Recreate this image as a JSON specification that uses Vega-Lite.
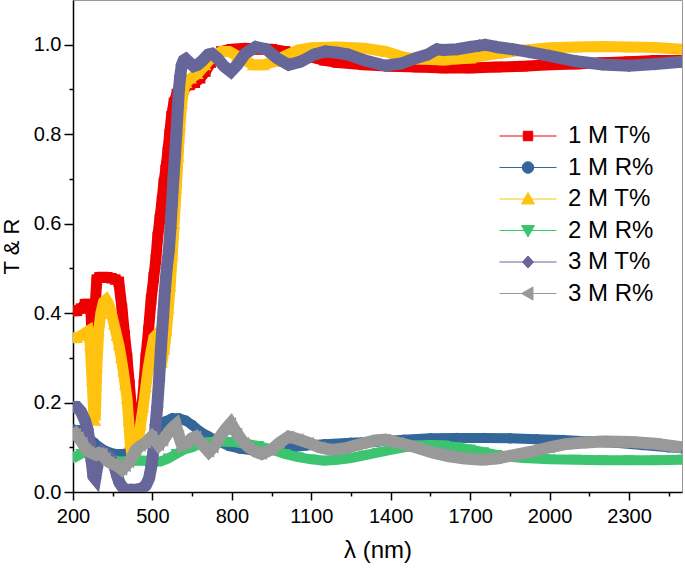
{
"$schema":"https://vega.github.io/schema/vega-lite/v6.json",
"width":609,"height":492,
"autosize":{"type":"none"},
"padding":{"left":73,"top":0,"right":3,"bottom":82},
"background":"white",
"config":{"view":{"stroke":"#999999","strokeWidth":1},"font":"Liberation Sans"},
"datasets":{"d":[
{"s":"1 M T%","x":200,"y":0.405},{"s":"1 M T%","x":215,"y":0.405},{"s":"1 M T%","x":230,"y":0.41},{"s":"1 M T%","x":245,"y":0.42},{"s":"1 M T%","x":260,"y":0.42},{"s":"1 M T%","x":268,"y":0.41},{"s":"1 M T%","x":275,"y":0.27},{"s":"1 M T%","x":282,"y":0.40},{"s":"1 M T%","x":290,"y":0.475},{"s":"1 M T%","x":300,"y":0.48},{"s":"1 M T%","x":315,"y":0.48},{"s":"1 M T%","x":330,"y":0.48},{"s":"1 M T%","x":345,"y":0.478},{"s":"1 M T%","x":360,"y":0.475},{"s":"1 M T%","x":373,"y":0.47},{"s":"1 M T%","x":385,"y":0.41},{"s":"1 M T%","x":395,"y":0.35},{"s":"1 M T%","x":404,"y":0.30},{"s":"1 M T%","x":413,"y":0.24},{"s":"1 M T%","x":422,"y":0.18},{"s":"1 M T%","x":430,"y":0.14},{"s":"1 M T%","x":437,"y":0.12},{"s":"1 M T%","x":445,"y":0.14},{"s":"1 M T%","x":452,"y":0.16},{"s":"1 M T%","x":460,"y":0.19},{"s":"1 M T%","x":468,"y":0.24},{"s":"1 M T%","x":475,"y":0.30},{"s":"1 M T%","x":485,"y":0.36},{"s":"1 M T%","x":495,"y":0.43},{"s":"1 M T%","x":505,"y":0.48},{"s":"1 M T%","x":513,"y":0.52},{"s":"1 M T%","x":520,"y":0.57},{"s":"1 M T%","x":528,"y":0.61},{"s":"1 M T%","x":536,"y":0.65},{"s":"1 M T%","x":543,"y":0.69},{"s":"1 M T%","x":550,"y":0.72},{"s":"1 M T%","x":558,"y":0.76},{"s":"1 M T%","x":565,"y":0.80},{"s":"1 M T%","x":572,"y":0.84},{"s":"1 M T%","x":581,"y":0.87},{"s":"1 M T%","x":592,"y":0.89},{"s":"1 M T%","x":605,"y":0.90},{"s":"1 M T%","x":620,"y":0.905},{"s":"1 M T%","x":640,"y":0.91},{"s":"1 M T%","x":660,"y":0.915},{"s":"1 M T%","x":680,"y":0.925},{"s":"1 M T%","x":700,"y":0.94},{"s":"1 M T%","x":720,"y":0.96},{"s":"1 M T%","x":740,"y":0.975},{"s":"1 M T%","x":760,"y":0.985},{"s":"1 M T%","x":800,"y":0.99},{"s":"1 M T%","x":850,"y":0.992},{"s":"1 M T%","x":900,"y":0.99},{"s":"1 M T%","x":950,"y":0.99},{"s":"1 M T%","x":1000,"y":0.985},{"s":"1 M T%","x":1050,"y":0.98},{"s":"1 M T%","x":1100,"y":0.972},{"s":"1 M T%","x":1150,"y":0.965},{"s":"1 M T%","x":1200,"y":0.96},{"s":"1 M T%","x":1300,"y":0.955},{"s":"1 M T%","x":1400,"y":0.952},{"s":"1 M T%","x":1500,"y":0.95},{"s":"1 M T%","x":1600,"y":0.948},{"s":"1 M T%","x":1700,"y":0.948},{"s":"1 M T%","x":1800,"y":0.95},{"s":"1 M T%","x":1900,"y":0.952},{"s":"1 M T%","x":2000,"y":0.955},{"s":"1 M T%","x":2100,"y":0.957},{"s":"1 M T%","x":2200,"y":0.96},{"s":"1 M T%","x":2300,"y":0.962},{"s":"1 M T%","x":2400,"y":0.965},{"s":"1 M T%","x":2500,"y":0.965},
{"s":"1 M R%","x":200,"y":0.14},{"s":"1 M R%","x":220,"y":0.138},{"s":"1 M R%","x":240,"y":0.13},{"s":"1 M R%","x":260,"y":0.12},{"s":"1 M R%","x":280,"y":0.11},{"s":"1 M R%","x":300,"y":0.10},{"s":"1 M R%","x":330,"y":0.09},{"s":"1 M R%","x":360,"y":0.085},{"s":"1 M R%","x":390,"y":0.085},{"s":"1 M R%","x":420,"y":0.09},{"s":"1 M R%","x":450,"y":0.10},{"s":"1 M R%","x":480,"y":0.115},{"s":"1 M R%","x":505,"y":0.13},{"s":"1 M R%","x":525,"y":0.145},{"s":"1 M R%","x":550,"y":0.158},{"s":"1 M R%","x":575,"y":0.165},{"s":"1 M R%","x":600,"y":0.165},{"s":"1 M R%","x":625,"y":0.16},{"s":"1 M R%","x":650,"y":0.15},{"s":"1 M R%","x":680,"y":0.135},{"s":"1 M R%","x":710,"y":0.125},{"s":"1 M R%","x":750,"y":0.113},{"s":"1 M R%","x":790,"y":0.103},{"s":"1 M R%","x":830,"y":0.097},{"s":"1 M R%","x":880,"y":0.093},{"s":"1 M R%","x":930,"y":0.092},{"s":"1 M R%","x":980,"y":0.095},{"s":"1 M R%","x":1030,"y":0.1},{"s":"1 M R%","x":1080,"y":0.104},{"s":"1 M R%","x":1150,"y":0.107},{"s":"1 M R%","x":1250,"y":0.11},{"s":"1 M R%","x":1350,"y":0.113},{"s":"1 M R%","x":1450,"y":0.117},{"s":"1 M R%","x":1550,"y":0.12},{"s":"1 M R%","x":1650,"y":0.121},{"s":"1 M R%","x":1750,"y":0.121},{"s":"1 M R%","x":1850,"y":0.12},{"s":"1 M R%","x":1950,"y":0.118},{"s":"1 M R%","x":2050,"y":0.116},{"s":"1 M R%","x":2150,"y":0.113},{"s":"1 M R%","x":2250,"y":0.11},{"s":"1 M R%","x":2350,"y":0.105},{"s":"1 M R%","x":2450,"y":0.1},{"s":"1 M R%","x":2500,"y":0.098},
{"s":"2 M T%","x":200,"y":0.345},{"s":"2 M T%","x":215,"y":0.345},{"s":"2 M T%","x":230,"y":0.35},{"s":"2 M T%","x":245,"y":0.355},{"s":"2 M T%","x":258,"y":0.36},{"s":"2 M T%","x":265,"y":0.33},{"s":"2 M T%","x":272,"y":0.25},{"s":"2 M T%","x":278,"y":0.18},{"s":"2 M T%","x":284,"y":0.16},{"s":"2 M T%","x":290,"y":0.28},{"s":"2 M T%","x":297,"y":0.36},{"s":"2 M T%","x":305,"y":0.40},{"s":"2 M T%","x":315,"y":0.425},{"s":"2 M T%","x":325,"y":0.43},{"s":"2 M T%","x":335,"y":0.42},{"s":"2 M T%","x":345,"y":0.40},{"s":"2 M T%","x":355,"y":0.375},{"s":"2 M T%","x":365,"y":0.35},{"s":"2 M T%","x":373,"y":0.33},{"s":"2 M T%","x":382,"y":0.30},{"s":"2 M T%","x":390,"y":0.27},{"s":"2 M T%","x":397,"y":0.24},{"s":"2 M T%","x":404,"y":0.21},{"s":"2 M T%","x":410,"y":0.16},{"s":"2 M T%","x":416,"y":0.11},{"s":"2 M T%","x":422,"y":0.085},{"s":"2 M T%","x":430,"y":0.08},{"s":"2 M T%","x":438,"y":0.085},{"s":"2 M T%","x":446,"y":0.11},{"s":"2 M T%","x":455,"y":0.15},{"s":"2 M T%","x":465,"y":0.19},{"s":"2 M T%","x":475,"y":0.235},{"s":"2 M T%","x":485,"y":0.28},{"s":"2 M T%","x":495,"y":0.315},{"s":"2 M T%","x":505,"y":0.345},{"s":"2 M T%","x":513,"y":0.35},{"s":"2 M T%","x":520,"y":0.32},{"s":"2 M T%","x":528,"y":0.29},{"s":"2 M T%","x":536,"y":0.29},{"s":"2 M T%","x":545,"y":0.32},{"s":"2 M T%","x":553,"y":0.36},{"s":"2 M T%","x":560,"y":0.41},{"s":"2 M T%","x":567,"y":0.46},{"s":"2 M T%","x":575,"y":0.53},{"s":"2 M T%","x":582,"y":0.60},{"s":"2 M T%","x":590,"y":0.68},{"s":"2 M T%","x":597,"y":0.75},{"s":"2 M T%","x":604,"y":0.82},{"s":"2 M T%","x":611,"y":0.87},{"s":"2 M T%","x":618,"y":0.90},{"s":"2 M T%","x":628,"y":0.915},{"s":"2 M T%","x":645,"y":0.925},{"s":"2 M T%","x":670,"y":0.935},{"s":"2 M T%","x":700,"y":0.955},{"s":"2 M T%","x":730,"y":0.975},{"s":"2 M T%","x":760,"y":0.985},{"s":"2 M T%","x":790,"y":0.985},{"s":"2 M T%","x":820,"y":0.975},{"s":"2 M T%","x":850,"y":0.965},{"s":"2 M T%","x":880,"y":0.955},{"s":"2 M T%","x":920,"y":0.955},{"s":"2 M T%","x":960,"y":0.962},{"s":"2 M T%","x":1000,"y":0.975},{"s":"2 M T%","x":1050,"y":0.988},{"s":"2 M T%","x":1100,"y":0.993},{"s":"2 M T%","x":1200,"y":0.995},{"s":"2 M T%","x":1300,"y":0.992},{"s":"2 M T%","x":1380,"y":0.985},{"s":"2 M T%","x":1450,"y":0.972},{"s":"2 M T%","x":1500,"y":0.968},{"s":"2 M T%","x":1600,"y":0.966},{"s":"2 M T%","x":1700,"y":0.97},{"s":"2 M T%","x":1800,"y":0.98},{"s":"2 M T%","x":1900,"y":0.988},{"s":"2 M T%","x":2000,"y":0.993},{"s":"2 M T%","x":2100,"y":0.995},{"s":"2 M T%","x":2200,"y":0.996},{"s":"2 M T%","x":2300,"y":0.995},{"s":"2 M T%","x":2400,"y":0.994},{"s":"2 M T%","x":2500,"y":0.99},
{"s":"2 M R%","x":200,"y":0.075},{"s":"2 M R%","x":215,"y":0.08},{"s":"2 M R%","x":230,"y":0.085},{"s":"2 M R%","x":250,"y":0.09},{"s":"2 M R%","x":270,"y":0.085},{"s":"2 M R%","x":290,"y":0.08},{"s":"2 M R%","x":320,"y":0.075},{"s":"2 M R%","x":350,"y":0.07},{"s":"2 M R%","x":380,"y":0.068},{"s":"2 M R%","x":410,"y":0.068},{"s":"2 M R%","x":440,"y":0.07},{"s":"2 M R%","x":470,"y":0.07},{"s":"2 M R%","x":500,"y":0.068},{"s":"2 M R%","x":530,"y":0.068},{"s":"2 M R%","x":560,"y":0.075},{"s":"2 M R%","x":590,"y":0.085},{"s":"2 M R%","x":620,"y":0.095},{"s":"2 M R%","x":650,"y":0.10},{"s":"2 M R%","x":680,"y":0.108},{"s":"2 M R%","x":720,"y":0.112},{"s":"2 M R%","x":760,"y":0.113},{"s":"2 M R%","x":800,"y":0.112},{"s":"2 M R%","x":850,"y":0.108},{"s":"2 M R%","x":900,"y":0.103},{"s":"2 M R%","x":950,"y":0.095},{"s":"2 M R%","x":1000,"y":0.085},{"s":"2 M R%","x":1050,"y":0.078},{"s":"2 M R%","x":1100,"y":0.073},{"s":"2 M R%","x":1150,"y":0.07},{"s":"2 M R%","x":1200,"y":0.072},{"s":"2 M R%","x":1250,"y":0.076},{"s":"2 M R%","x":1300,"y":0.082},{"s":"2 M R%","x":1350,"y":0.088},{"s":"2 M R%","x":1400,"y":0.094},{"s":"2 M R%","x":1450,"y":0.1},{"s":"2 M R%","x":1500,"y":0.104},{"s":"2 M R%","x":1550,"y":0.105},{"s":"2 M R%","x":1600,"y":0.104},{"s":"2 M R%","x":1650,"y":0.1},{"s":"2 M R%","x":1700,"y":0.095},{"s":"2 M R%","x":1750,"y":0.089},{"s":"2 M R%","x":1800,"y":0.083},{"s":"2 M R%","x":1850,"y":0.079},{"s":"2 M R%","x":1900,"y":0.076},{"s":"2 M R%","x":2000,"y":0.073},{"s":"2 M R%","x":2100,"y":0.072},{"s":"2 M R%","x":2200,"y":0.071},{"s":"2 M R%","x":2300,"y":0.071},{"s":"2 M R%","x":2400,"y":0.071},{"s":"2 M R%","x":2500,"y":0.072},
{"s":"3 M T%","x":200,"y":0.19},{"s":"3 M T%","x":215,"y":0.19},{"s":"3 M T%","x":230,"y":0.18},{"s":"3 M T%","x":245,"y":0.16},{"s":"3 M T%","x":255,"y":0.14},{"s":"3 M T%","x":263,"y":0.11},{"s":"3 M T%","x":270,"y":0.07},{"s":"3 M T%","x":277,"y":0.035},{"s":"3 M T%","x":284,"y":0.03},{"s":"3 M T%","x":291,"y":0.055},{"s":"3 M T%","x":298,"y":0.08},{"s":"3 M T%","x":310,"y":0.09},{"s":"3 M T%","x":322,"y":0.085},{"s":"3 M T%","x":335,"y":0.08},{"s":"3 M T%","x":348,"y":0.07},{"s":"3 M T%","x":358,"y":0.055},{"s":"3 M T%","x":367,"y":0.035},{"s":"3 M T%","x":376,"y":0.02},{"s":"3 M T%","x":388,"y":0.01},{"s":"3 M T%","x":400,"y":0.005},{"s":"3 M T%","x":420,"y":0.005},{"s":"3 M T%","x":440,"y":0.005},{"s":"3 M T%","x":460,"y":0.008},{"s":"3 M T%","x":475,"y":0.015},{"s":"3 M T%","x":487,"y":0.03},{"s":"3 M T%","x":497,"y":0.06},{"s":"3 M T%","x":505,"y":0.10},{"s":"3 M T%","x":512,"y":0.15},{"s":"3 M T%","x":518,"y":0.19},{"s":"3 M T%","x":525,"y":0.25},{"s":"3 M T%","x":532,"y":0.32},{"s":"3 M T%","x":540,"y":0.39},{"s":"3 M T%","x":547,"y":0.45},{"s":"3 M T%","x":554,"y":0.50},{"s":"3 M T%","x":562,"y":0.54},{"s":"3 M T%","x":568,"y":0.59},{"s":"3 M T%","x":573,"y":0.64},{"s":"3 M T%","x":579,"y":0.70},{"s":"3 M T%","x":585,"y":0.75},{"s":"3 M T%","x":590,"y":0.80},{"s":"3 M T%","x":596,"y":0.86},{"s":"3 M T%","x":600,"y":0.90},{"s":"3 M T%","x":605,"y":0.93},{"s":"3 M T%","x":611,"y":0.955},{"s":"3 M T%","x":618,"y":0.965},{"s":"3 M T%","x":626,"y":0.968},{"s":"3 M T%","x":640,"y":0.96},{"s":"3 M T%","x":655,"y":0.952},{"s":"3 M T%","x":670,"y":0.955},{"s":"3 M T%","x":690,"y":0.965},{"s":"3 M T%","x":710,"y":0.978},{"s":"3 M T%","x":725,"y":0.98},{"s":"3 M T%","x":745,"y":0.97},{"s":"3 M T%","x":770,"y":0.952},{"s":"3 M T%","x":796,"y":0.94},{"s":"3 M T%","x":820,"y":0.955},{"s":"3 M T%","x":850,"y":0.98},{"s":"3 M T%","x":890,"y":0.995},{"s":"3 M T%","x":930,"y":0.99},{"s":"3 M T%","x":970,"y":0.97},{"s":"3 M T%","x":1015,"y":0.955},{"s":"3 M T%","x":1060,"y":0.962},{"s":"3 M T%","x":1110,"y":0.978},{"s":"3 M T%","x":1154,"y":0.985},{"s":"3 M T%","x":1200,"y":0.982},{"s":"3 M T%","x":1240,"y":0.978},{"s":"3 M T%","x":1300,"y":0.965},{"s":"3 M T%","x":1380,"y":0.953},{"s":"3 M T%","x":1440,"y":0.958},{"s":"3 M T%","x":1494,"y":0.97},{"s":"3 M T%","x":1540,"y":0.978},{"s":"3 M T%","x":1560,"y":0.985},{"s":"3 M T%","x":1575,"y":0.99},{"s":"3 M T%","x":1600,"y":0.988},{"s":"3 M T%","x":1650,"y":0.99},{"s":"3 M T%","x":1700,"y":0.995},{"s":"3 M T%","x":1735,"y":0.998},{"s":"3 M T%","x":1757,"y":1.0},{"s":"3 M T%","x":1800,"y":0.995},{"s":"3 M T%","x":1860,"y":0.99},{"s":"3 M T%","x":1920,"y":0.984},{"s":"3 M T%","x":2000,"y":0.975},{"s":"3 M T%","x":2100,"y":0.963},{"s":"3 M T%","x":2200,"y":0.956},{"s":"3 M T%","x":2300,"y":0.953},{"s":"3 M T%","x":2400,"y":0.957},{"s":"3 M T%","x":2500,"y":0.962},
{"s":"3 M R%","x":200,"y":0.125},{"s":"3 M R%","x":210,"y":0.13},{"s":"3 M R%","x":220,"y":0.122},{"s":"3 M R%","x":235,"y":0.11},{"s":"3 M R%","x":250,"y":0.095},{"s":"3 M R%","x":260,"y":0.09},{"s":"3 M R%","x":275,"y":0.086},{"s":"3 M R%","x":287,"y":0.083},{"s":"3 M R%","x":298,"y":0.087},{"s":"3 M R%","x":310,"y":0.085},{"s":"3 M R%","x":322,"y":0.075},{"s":"3 M R%","x":336,"y":0.067},{"s":"3 M R%","x":350,"y":0.063},{"s":"3 M R%","x":362,"y":0.06},{"s":"3 M R%","x":375,"y":0.055},{"s":"3 M R%","x":385,"y":0.05},{"s":"3 M R%","x":398,"y":0.058},{"s":"3 M R%","x":411,"y":0.067},{"s":"3 M R%","x":424,"y":0.08},{"s":"3 M R%","x":437,"y":0.094},{"s":"3 M R%","x":455,"y":0.103},{"s":"3 M R%","x":475,"y":0.11},{"s":"3 M R%","x":488,"y":0.118},{"s":"3 M R%","x":498,"y":0.124},{"s":"3 M R%","x":511,"y":0.115},{"s":"3 M R%","x":524,"y":0.105},{"s":"3 M R%","x":540,"y":0.115},{"s":"3 M R%","x":562,"y":0.135},{"s":"3 M R%","x":578,"y":0.145},{"s":"3 M R%","x":588,"y":0.15},{"s":"3 M R%","x":600,"y":0.125},{"s":"3 M R%","x":611,"y":0.105},{"s":"3 M R%","x":630,"y":0.11},{"s":"3 M R%","x":648,"y":0.12},{"s":"3 M R%","x":664,"y":0.124},{"s":"3 M R%","x":690,"y":0.105},{"s":"3 M R%","x":713,"y":0.09},{"s":"3 M R%","x":730,"y":0.1},{"s":"3 M R%","x":751,"y":0.12},{"s":"3 M R%","x":775,"y":0.14},{"s":"3 M R%","x":796,"y":0.154},{"s":"3 M R%","x":820,"y":0.13},{"s":"3 M R%","x":845,"y":0.11},{"s":"3 M R%","x":864,"y":0.1},{"s":"3 M R%","x":890,"y":0.09},{"s":"3 M R%","x":913,"y":0.085},{"s":"3 M R%","x":950,"y":0.095},{"s":"3 M R%","x":980,"y":0.11},{"s":"3 M R%","x":1015,"y":0.124},{"s":"3 M R%","x":1050,"y":0.118},{"s":"3 M R%","x":1090,"y":0.11},{"s":"3 M R%","x":1130,"y":0.1},{"s":"3 M R%","x":1177,"y":0.094},{"s":"3 M R%","x":1230,"y":0.098},{"s":"3 M R%","x":1290,"y":0.108},{"s":"3 M R%","x":1340,"y":0.115},{"s":"3 M R%","x":1380,"y":0.117},{"s":"3 M R%","x":1430,"y":0.11},{"s":"3 M R%","x":1494,"y":0.1},{"s":"3 M R%","x":1560,"y":0.088},{"s":"3 M R%","x":1620,"y":0.08},{"s":"3 M R%","x":1680,"y":0.075},{"s":"3 M R%","x":1744,"y":0.072},{"s":"3 M R%","x":1800,"y":0.075},{"s":"3 M R%","x":1860,"y":0.082},{"s":"3 M R%","x":1931,"y":0.09},{"s":"3 M R%","x":2000,"y":0.1},{"s":"3 M R%","x":2060,"y":0.107},{"s":"3 M R%","x":2120,"y":0.11},{"s":"3 M R%","x":2200,"y":0.113},{"s":"3 M R%","x":2309,"y":0.112},{"s":"3 M R%","x":2400,"y":0.108},{"s":"3 M R%","x":2500,"y":0.1}
]},
"data":{"name":"d"},
"encoding":{
"x":{"field":"x","type":"quantitative","scale":{"domain":[200,2500],"nice":false,"zero":false},
 "axis":{"title":"λ (nm)","values":[200,350,500,650,800,950,1100,1250,1400,1550,1700,1850,2000,2150,2300,2450],"format":"d","labelExpr":"(datum.value-200)%300==0 ? datum.label : ''","labelOverlap":false,"labelFlush":false,
 "tickSize":{"condition":{"test":"(datum.value-200)%300==0","value":8},"value":4},
 "grid":false,"domainColor":"black","domainWidth":1.5,"tickColor":"black","tickWidth":1.5,"labelFontSize":20,"labelColor":"black","labelPadding":6,"labelFont":"Liberation Sans","titleFont":"Liberation Sans","titleFontSize":24,"titleFontWeight":"normal","titleColor":"black","titlePadding":12}},
"y":{"field":"y","type":"quantitative","scale":{"domain":[0,1.1],"nice":false},
 "axis":{"title":"T & R","values":[0,0.1,0.2,0.3,0.4,0.5,0.6,0.7,0.8,0.9,1.0],"format":".1f","labelExpr":"round(datum.value*10)%2==0 ? datum.label : ''","labelOverlap":false,"labelFlush":false,
 "tickSize":{"condition":{"test":"round(datum.value*10)%2==0","value":9},"value":4},
 "grid":false,"domainColor":"black","domainWidth":1.5,"tickColor":"black","tickWidth":1.5,"labelFontSize":20,"labelColor":"black","labelPadding":3,"labelFont":"Liberation Sans","titleFont":"Liberation Sans","titleFontSize":22,"titleFontWeight":"normal","titleColor":"black","titlePadding":10}},
"color":{"field":"s","type":"nominal","scale":{"domain":["1 M T%","1 M R%","2 M T%","2 M R%","3 M T%","3 M R%"],"range":["#ee0000","#336699","#ffc20e","#3cc46f","#666699","#999999"]},
 "legend":{"title":null,"orient":"none","legendX":443,"legendY":124,"labelFontSize":24,"labelFont":"Liberation Sans","labelColor":"black","symbolSize":100,"labelOffset":28,"rowPadding":7.5,
  "encode":{"symbols":{"update":{
   "shape":{"signal":"datum.value=='1 M T%' ? 'M -5.7 0 H 5.7 M -0.95 -0.95 H 0.95 V 0.95 H -0.95 Z' : datum.value=='1 M R%' ? 'M -5.7 0 H 5.7 M -1.15 0 A 1.15 1.15 0 1 0 1.15 0 A 1.15 1.15 0 1 0 -1.15 0 Z' : datum.value=='2 M T%' ? 'M -5.7 0 H 5.7 M 0 -1.3 L 1.3 1 L -1.3 1 Z' : datum.value=='2 M R%' ? 'M -5.7 0 H 5.7 M 0 1.3 L 1.3 -1 L -1.3 -1 Z' : datum.value=='3 M T%' ? 'M -5.7 0 H 5.7 M 0 -1.2 L 1.1 0 L 0 1.2 L -1.1 0 Z' : 'M -5.7 0 H 5.7 M -1.3 0 L 1 -1.3 L 1 1.3 Z'"},
   "fill":{"signal":"scale('color', datum.value)"},
   "stroke":{"signal":"scale('color', datum.value)"},
   "strokeWidth":{"value":1},
   "size":{"value":100},
   "opacity":{"value":1}}}}}}
},
"layer":[
{"transform":[{"filter":"datum.s == '1 M T%'"}],"layer":[{"mark":{"type":"line","strokeWidth":11,"clip":true}},{"mark":{"type":"point","shape":"square","size":110,"filled":true,"opacity":1,"strokeWidth":0,"clip":true}}]},
{"transform":[{"filter":"datum.s == '1 M R%'"}],"layer":[{"mark":{"type":"line","strokeWidth":10,"clip":true}},{"mark":{"type":"point","shape":"circle","size":110,"filled":true,"opacity":1,"strokeWidth":0,"clip":true}}]},
{"transform":[{"filter":"datum.s == '2 M T%'"}],"layer":[{"mark":{"type":"line","strokeWidth":11,"clip":true}},{"mark":{"type":"point","shape":"triangle-up","size":150,"filled":true,"opacity":1,"strokeWidth":0,"clip":true}}]},
{"transform":[{"filter":"datum.s == '2 M R%'"}],"layer":[{"mark":{"type":"line","strokeWidth":10,"clip":true}},{"mark":{"type":"point","shape":"triangle-down","size":130,"filled":true,"opacity":1,"strokeWidth":0,"clip":true}}]},
{"transform":[{"filter":"datum.s == '3 M T%'"}],"layer":[{"mark":{"type":"line","strokeWidth":12,"clip":true}},{"mark":{"type":"point","shape":"diamond","size":170,"filled":true,"opacity":1,"strokeWidth":0,"clip":true}}]},
{"transform":[{"filter":"datum.s == '3 M R%'"}],"layer":[{"mark":{"type":"line","strokeWidth":12,"clip":true}},{"mark":{"type":"point","shape":"triangle-left","size":150,"filled":true,"opacity":1,"strokeWidth":0,"clip":true}}]}
]
}
